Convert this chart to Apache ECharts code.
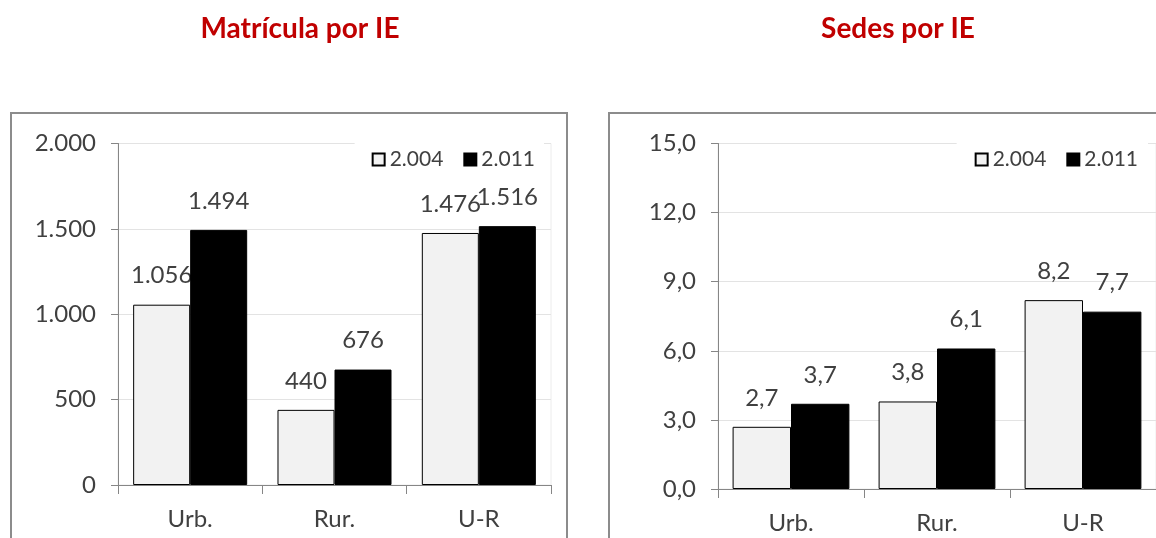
<!DOCTYPE html>
<html>
<head>
<meta charset="utf-8">
<script src="https://cdn.jsdelivr.net/npm/echarts@6/dist/echarts.min.js"></script>
<style>
  html, body { margin: 0; padding: 0; background: #fff; }
  #main { width: 1156px; height: 538px; }
</style>
</head>
<body>
<div id="main"></div>
<script>
var categories = ['Urb.', 'Rur.', 'U-R'];
var years = ['2.004', '2.011'];
var matricula2004 = [1056, 440, 1476];
var matricula2011 = [1494, 676, 1516];
var sedes2004 = [2.7, 3.8, 8.2];
var sedes2011 = [3.7, 6.1, 7.7];

var textColor = '#404040';
var font = 'Lato';

function miles(v) {
    return String(Math.round(v)).replace(/\B(?=(\d{3})+(?!\d))/g, '.');
}
function decimal(v) {
    return Number(v).toFixed(1).replace('.', ',');
}

var dom = document.getElementById('main');
var myChart = echarts.init(dom);

function xAxisFor(idx) {
    return {
        type: 'category',
        gridIndex: idx,
        data: categories,
        axisLine: { lineStyle: { color: '#868686', width: 1 } },
        axisTick: { show: true, length: 9, lineStyle: { color: '#868686' } },
        axisLabel: { color: textColor, fontSize: 24, fontFamily: font, margin: 22 }
    };
}
function yAxisFor(idx, max, interval, fmt) {
    return {
        type: 'value',
        gridIndex: idx,
        min: 0,
        max: max,
        interval: interval,
        axisLine: { show: true, lineStyle: { color: '#868686', width: 1 } },
        axisTick: { show: true, length: 7, lineStyle: { color: '#868686' } },
        splitLine: { lineStyle: { color: '#e3e3e3', width: 1 } },
        axisLabel: { color: textColor, fontSize: 24, fontFamily: font, margin: 22, formatter: fmt }
    };
}
function barSeries(name, idx, data, light, fmt, bw) {
    return {
        name: name,
        type: 'bar',
        xAxisIndex: idx,
        yAxisIndex: idx,
        data: data,
        z: light ? 2 : 3,
        barWidth: bw,
        barGap: '0%',
        itemStyle: light
            ? { color: '#f2f2f2', borderColor: '#000', borderWidth: 1 }
            : { color: '#000', borderColor: '#000', borderWidth: 1 },
        label: {
            show: true,
            position: 'top',
            distance: 17,
            color: textColor,
            fontSize: 24,
            fontFamily: font,
            formatter: function (p) { return fmt(p.value); }
        }
    };
}

option = {
    animation: false,
    title: [
        {
            text: 'Matrícula por IE', left: 295, top: 10, textAlign: 'center',
            textStyle: { color: '#c00000', fontSize: 28, fontWeight: 'bold', fontFamily: font }
        },
        {
            text: 'Sedes por IE', left: 893, top: 10, textAlign: 'center',
            textStyle: { color: '#c00000', fontSize: 28, fontWeight: 'bold', fontFamily: font }
        }
    ],
    graphic: [
        { type: 'rect', shape: { x: 11, y: 113, width: 556, height: 426 },
          style: { fill: 'none', stroke: '#8c8c8c', lineWidth: 2 }, z: 0, silent: true },
        { type: 'rect', shape: { x: 609, y: 113, width: 600, height: 426 },
          style: { fill: 'none', stroke: '#8c8c8c', lineWidth: 2 }, z: 0, silent: true }
    ],
    grid: [
        { left: 118, right: 605, top: 143.5, bottom: 53, show: true, borderColor: '#ececec', borderWidth: 1, backgroundColor: 'transparent' },
        { left: 718, right: 0, top: 143.5, bottom: 49, show: true, borderColor: '#ececec', borderWidth: 1, backgroundColor: 'transparent' }
    ],
    legend: [
        {
            data: years, right: 612, top: 142, icon: 'rect',
            itemWidth: 12, itemHeight: 12, itemGap: 20,
            backgroundColor: '#fff', padding: [7, 9, 9, 17],
            textStyle: { color: textColor, fontSize: 21, fontFamily: font }
        },
        {
            data: years, right: 8, top: 142, icon: 'rect',
            itemWidth: 12, itemHeight: 12, itemGap: 20,
            backgroundColor: '#fff', padding: [7, 10, 9, 18],
            textStyle: { color: textColor, fontSize: 21, fontFamily: font }
        }
    ],
    xAxis: [xAxisFor(0), xAxisFor(1)],
    yAxis: [
        yAxisFor(0, 2000, 500, miles),
        yAxisFor(1, 15, 3, decimal)
    ],
    series: [
        barSeries(years[0], 0, matricula2004, true, miles, '39.5%'),
        barSeries(years[1], 0, matricula2011, false, miles, '39.5%'),
        barSeries(years[0], 1, sedes2004, true, decimal, '40%'),
        barSeries(years[1], 1, sedes2011, false, decimal, '40%')
    ]
};

if (option && typeof option === 'object') {
    myChart.setOption(option, true);
}
</script>
</body>
</html>
